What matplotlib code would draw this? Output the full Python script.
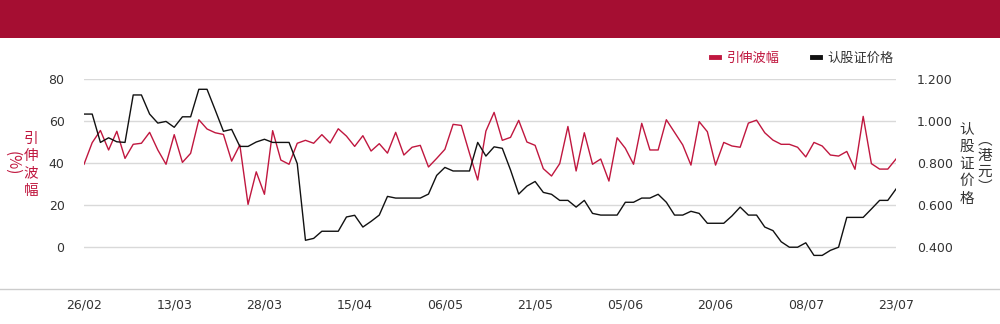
import numpy as np
import matplotlib
matplotlib.use('Agg')
import matplotlib.pyplot as plt
from matplotlib.lines import Line2D
from matplotlib.patches import Rectangle

plt.rcParams['font.family'] = ['Noto Sans CJK SC', 'DejaVu Sans']

# datos
etiquetas_x = ['26/02', '13/03', '28/03', '15/04', '06/05', '21/05', '05/06', '20/06', '08/07', '23/07']
posiciones_x = [0, 11, 22, 33, 44, 55, 66, 77, 88, 99]

volatilidad = [39.4, 49.7, 55.5, 46.2, 55.1, 42.2, 48.9, 49.4, 54.6, 46.2,
               39.4, 53.5, 40.3, 44.6, 60.6, 56.2, 54.4, 53.6, 40.9, 48.6,
               20.3, 35.8, 25.1, 55.4, 41.4, 39.4, 49.4, 50.8, 49.4, 53.5,
               49.5, 56.3, 52.8, 47.9, 53.0, 45.7, 49.2, 44.7, 54.6, 43.8,
               47.5, 48.4, 38.1, 42.2, 46.5, 58.4, 57.9, 44.6, 31.9, 55.2,
               64.1, 50.8, 52.2, 60.3, 50.0, 48.4, 37.3, 33.8, 39.7, 57.4,
               36.2, 54.4, 39.4, 41.9, 31.4, 52.0, 47.0, 39.4, 58.9, 46.2,
               46.2, 60.6, 54.6, 48.6, 39.0, 59.7, 54.9, 39.0, 49.8, 48.1,
               47.5, 59.0, 60.4, 54.4, 50.9, 48.9, 48.9, 47.5, 42.9, 49.8,
               48.1, 43.8, 43.3, 45.5, 37.0, 62.2, 39.7, 37.1, 37.1, 41.9]

precio = [1.033, 1.033, 0.898, 0.920, 0.901, 0.898, 1.124, 1.124, 1.033, 0.990,
          0.998, 0.970, 1.020, 1.020, 1.151, 1.151, 1.052, 0.951, 0.960, 0.879,
          0.879, 0.900, 0.913, 0.898, 0.898, 0.898, 0.797, 0.432, 0.441, 0.475,
          0.475, 0.475, 0.543, 0.551, 0.495, 0.522, 0.552, 0.641, 0.633, 0.633,
          0.633, 0.633, 0.652, 0.741, 0.779, 0.762, 0.762, 0.762, 0.898, 0.833,
          0.877, 0.870, 0.767, 0.652, 0.690, 0.712, 0.660, 0.651, 0.622, 0.622,
          0.590, 0.622, 0.560, 0.552, 0.552, 0.552, 0.613, 0.613, 0.633, 0.633,
          0.651, 0.613, 0.552, 0.552, 0.570, 0.560, 0.513, 0.513, 0.513, 0.548,
          0.590, 0.552, 0.552, 0.495, 0.478, 0.425, 0.399, 0.399, 0.420, 0.360,
          0.360, 0.384, 0.399, 0.541, 0.541, 0.541, 0.581, 0.622, 0.622, 0.676]

rojo = '#c0173f'
negro = '#111111'
gris_txt = '#333333'

fig = plt.figure(figsize=(10, 3.24), dpi=100)

# banda superior
fig.add_artist(Rectangle((0, 1 - 38 / 324), 1, 38 / 324, transform=fig.transFigure,
                         facecolor='#a50e32', edgecolor='none'))

ax = fig.add_axes([0.084, 1 - 289 / 324, 0.812, 210 / 324])
ax2 = ax.twinx()

x = np.arange(len(volatilidad))
ax.plot(x, volatilidad, color=rojo, lw=1.0, label='引伸波幅')
ax2.plot(x, precio, color=negro, lw=1.0, label='认股证价格')

ax.set_xlim(0, 99)
ax.set_ylim(-20, 80)
ax2.set_ylim(0.2, 1.2)
ax.set_yticks([0, 20, 40, 60, 80])
ax2.set_yticks([0.4, 0.6, 0.8, 1.0, 1.2])
ax2.set_yticklabels(['0.400', '0.600', '0.800', '1.000', '1.200'])
ax.set_xticks(posiciones_x)
ax.set_xticklabels(etiquetas_x)

ax.grid(axis='y', color='#d9d9d9', lw=1)
ax.set_axisbelow(True)
for a in (ax, ax2):
    for s in a.spines.values():
        s.set_visible(False)
ax.tick_params(axis='both', length=0, labelsize=9, labelcolor=gris_txt)
ax.tick_params(axis='y', pad=14)
ax.tick_params(axis='x', pad=7)
ax2.tick_params(axis='y', length=0, labelsize=9, labelcolor=gris_txt, pad=15)
for t in ax.get_xticklabels() + ax.get_yticklabels() + ax2.get_yticklabels():
    t.set_family(['DejaVu Sans'])

# linea base a todo el ancho
fig.add_artist(Line2D([0, 1], [1 - 289 / 324] * 2, transform=fig.transFigure,
                      color='#cccccc', lw=1))

# titulos de ejes en vertical
fig.text(0.031, 1 - 165 / 324, '引\n伸\n波\n幅', color=rojo, fontsize=10.5,
         ha='center', va='center', linespacing=1.3)
fig.text(0.012, 1 - 163 / 324, '(%)', color=rojo, fontsize=11,
         ha='center', va='center', rotation=-90)
fig.text(0.967, 1 - 164 / 324, '认\n股\n证\n价\n格', color=gris_txt, fontsize=10.5,
         ha='center', va='center', linespacing=1.3)
fig.text(0.985, 1 - 164 / 324, '︵\n港\n元\n︶', color=gris_txt, fontsize=10.5,
         ha='center', va='center', linespacing=1.15)

# leyenda
handles = [Line2D([], [], color=rojo, lw=3.5), Line2D([], [], color=negro, lw=3.5)]
leg = ax.legend(handles, ['引伸波幅', '认股证价格'], loc='center right',
                bbox_to_anchor=(1.012, 1.1), ncol=2, frameon=False, fontsize=9.5,
                handlelength=0.6, handletextpad=0.6, columnspacing=2.4)
for txt, c in zip(leg.get_texts(), [rojo, gris_txt]):
    txt.set_color(c)

fig.savefig('out.png', dpi=100)
